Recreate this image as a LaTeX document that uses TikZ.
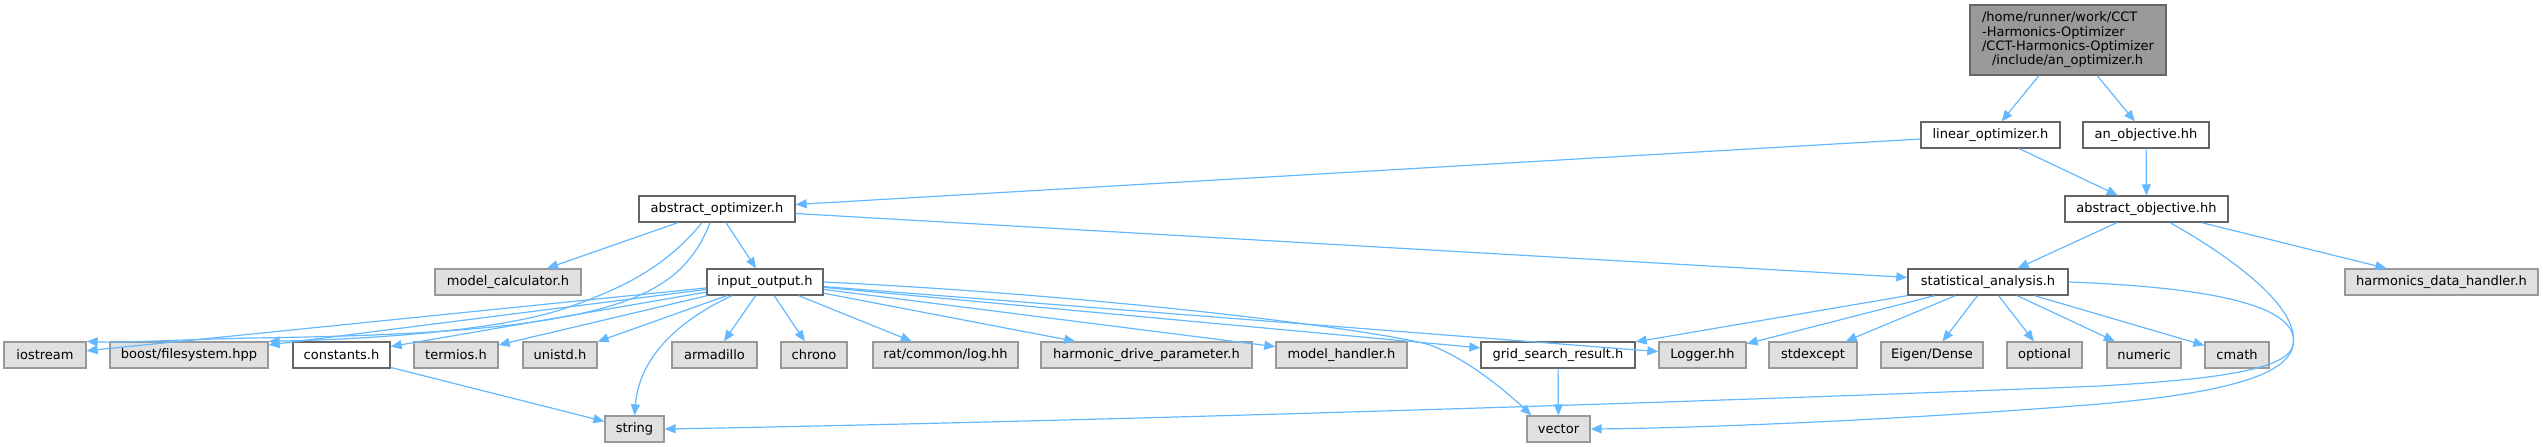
\documentclass[tikz,border=0pt]{standalone}
\usepackage{fontspec}
\setmainfont{DejaVu Sans}
\usepackage{xcolor}
\usepackage{tikz}
\usetikzlibrary{arrows.meta}
\definecolor{edgeblue}{HTML}{63B8FF}
\definecolor{sysfill}{HTML}{E0E0E0}
\definecolor{sysline}{HTML}{999999}
\definecolor{localline}{HTML}{666666}
\definecolor{rootfill}{HTML}{999999}

\tikzset{
  filebox/.style={line width=1.3pt, minimum height=26pt, inner xsep=4pt, inner ysep=0pt,
    font=\fontsize{13}{15}\selectfont},
  sysfile/.style={filebox, draw=sysline, fill=sysfill},
  localfile/.style={filebox, draw=localline, fill=white},
  rootfile/.style={filebox, draw=localline, fill=rootfill, align=left,
    font=\fontsize{13}{14.3}\selectfont},
  incl/.style={draw=edgeblue, line width=1.2pt, -{Triangle[length=11pt,width=9pt]}},
}

\begin{document}
\begin{tikzpicture}[x=1pt, y=-1pt]
    \useasboundingbox (0,0) rectangle (2543,447);

    \node[rootfile, minimum width=196pt, minimum height=70pt] (root) at (2068,40) {%
      /home/runner/work/CCT\\-Harmonics-Optimizer\\/CCT-Harmonics-Optimizer\\
      \hspace*{10pt}/include/an\_optimizer.h};

    \node[localfile, minimum width=139pt] (linopt) at (1990.5,135) {linear\_optimizer.h};
    \node[localfile, minimum width=126pt] (anobj) at (2146,135) {an\_objective.hh};

    \node[localfile, minimum width=156pt] (absopt) at (717,209) {abstract\_optimizer.h};
    \node[localfile, minimum width=163pt] (absobj) at (2146.5,209) {abstract\_objective.hh};

    \node[sysfile, minimum width=146pt] (modelcalc) at (508,282) {model\_calculator.h};
    \node[localfile, minimum width=116pt] (inout) at (765,282) {input\_output.h};
    \node[localfile, minimum width=160pt] (statan) at (1988,282) {statistical\_analysis.h};
    \node[sysfile, minimum width=193pt] (harmdata) at (2441.5,282) {harmonics\_data\_handler.h};

    \node[sysfile, minimum width=82pt] (iostream) at (45,355) {iostream};
    \node[sysfile, minimum width=158pt] (boost) at (189,355) {boost/filesystem.hpp};
    \node[localfile, minimum width=97pt] (constants) at (341.5,355) {constants.h};
    \node[sysfile, minimum width=84pt] (termios) at (456,355) {termios.h};
    \node[sysfile, minimum width=74pt] (unistd) at (560,355) {unistd.h};
    \node[sysfile, minimum width=85pt] (armadillo) at (714.5,355) {armadillo};
    \node[sysfile, minimum width=66pt] (chrono) at (814,355) {chrono};
    \node[sysfile, minimum width=145pt] (ratlog) at (945.5,355) {rat/common/log.hh};
    \node[sysfile, minimum width=211pt] (hdparam) at (1146.5,355) {harmonic\_drive\_parameter.h};
    \node[sysfile, minimum width=131pt] (modelhandler) at (1341.5,355) {model\_handler.h};
    \node[localfile, minimum width=154pt] (gridsearch) at (1558,355) {grid\_search\_result.h};
    \node[sysfile, minimum width=87pt] (logger) at (1702.5,355) {Logger.hh};
    \node[sysfile, minimum width=88pt] (stdexcept) at (1813,355) {stdexcept};
    \node[sysfile, minimum width=102pt] (eigen) at (1932,355) {Eigen/Dense};
    \node[sysfile, minimum width=75pt] (optional) at (2044.5,355) {optional};
    \node[sysfile, minimum width=74pt] (numeric) at (2144,355) {numeric};
    \node[sysfile, minimum width=64pt] (cmath) at (2237,355) {cmath};

    \node[sysfile, minimum width=59pt] (strhdr) at (634.5,429) {string};
    \node[sysfile, minimum width=63pt] (vechdr) at (1558.5,429) {vector};

    \draw[incl] (root) -- (linopt);
    \draw[incl] (root) -- (anobj);
    \draw[incl] (linopt) -- (absopt);
    \draw[incl] (linopt) -- (absobj);
    \draw[incl] (anobj) -- (absobj);

    \draw[incl] (absopt) -- (modelcalc);
    \draw[incl] (absopt) -- (inout);
    \draw[incl] (absopt) -- (statan);
    \draw[incl] ([xshift=-7pt]absopt.south) .. controls (695,262) and (670,282) .. (638,296)
      .. controls (560,330) and (400,336) .. (250,338)
      .. controls (170,340) and (120,343) .. (iostream.north east);
    \draw[incl] ([xshift=-15pt]absopt.south) .. controls (665,268) and (620,290) .. (560,310)
      .. controls (480,335) and (330,340) .. (boost.north east);

    \draw[incl] (absobj) -- (statan);
    \draw[incl] (absobj) -- (harmdata);
    \draw[incl] ([xshift=23.5pt]absobj.south) .. controls (2240,262) and (2300,310) .. (2293,345)
      .. controls (2288,372) and (2200,380) .. (2100,386)
      .. controls (1500,410) and (900,425) .. (strhdr.east);

    \foreach \dst in {iostream,boost,constants,termios,unistd,armadillo,chrono,ratlog,hdparam,modelhandler,gridsearch,logger}
      \draw[incl] (inout) -- (\dst);
    \draw[incl] ([xshift=-33pt]inout.south) .. controls (690,315) and (640,350) .. (strhdr.north);
    \draw[incl] (inout.east) .. controls (1100,295) and (1380,330) .. (1430,345)
      .. controls (1470,360) and (1510,395) .. ([xshift=5pt]vechdr.north west);

    \draw[incl] (constants) -- (strhdr);
    \draw[incl] (gridsearch) -- (vechdr);

    \foreach \dst in {gridsearch,logger,stdexcept,eigen,optional,numeric,cmath}
      \draw[incl] (statan) -- (\dst);
    \draw[incl] (statan.east) .. controls (2230,288) and (2300,310) .. (2293,345)
      .. controls (2288,380) and (2200,395) .. (2100,404)
      .. controls (1900,420) and (1700,428) .. (vechdr.east);
  \end{tikzpicture}
\end{document}
